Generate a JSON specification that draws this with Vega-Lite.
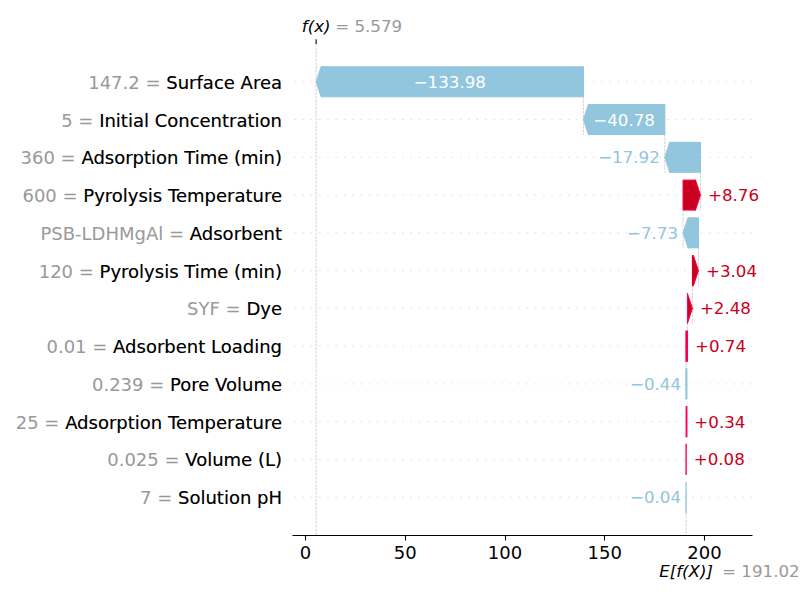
{
  "$schema": "https://vega.github.io/schema/vega-lite/v6.json",
  "width": 460,
  "height": 491,
  "autosize": {"type": "none"},
  "padding": {"left": 292, "top": 44, "right": 48, "bottom": 65},
  "background": "white",
  "config": {
    "view": {"stroke": null},
    "font": "DejaVu Sans",
    "axisX": {"tickCount": 5, "grid": false, "domainColor": "#000000", "domainWidth": 1.1, "tickColor": "#000000", "tickWidth": 1.1, "tickSize": 5, "labelColor": "#000000", "labelFontSize": 18, "labelPadding": 4, "labelFont": "DejaVu Sans"}
  },
  "datasets": {
    "rows": [
      {"name": "Surface Area", "full": "147.2 = Surface Area", "start": 139.557, "end": 5.579, "value": -133.98, "label": "−133.98"},
      {"name": "Initial Concentration", "full": "5 = Initial Concentration", "start": 180.337, "end": 139.557, "value": -40.78, "label": "−40.78"},
      {"name": "Adsorption Time (min)", "full": "360 = Adsorption Time (min)", "start": 198.257, "end": 180.337, "value": -17.92, "label": "−17.92"},
      {"name": "Pyrolysis Temperature", "full": "600 = Pyrolysis Temperature", "start": 189.497, "end": 198.257, "value": 8.76, "label": "+8.76"},
      {"name": "Adsorbent", "full": "PSB-LDHMgAl = Adsorbent", "start": 197.227, "end": 189.497, "value": -7.73, "label": "−7.73"},
      {"name": "Pyrolysis Time (min)", "full": "120 = Pyrolysis Time (min)", "start": 194.187, "end": 197.227, "value": 3.04, "label": "+3.04"},
      {"name": "Dye", "full": "SYF = Dye", "start": 191.707, "end": 194.187, "value": 2.48, "label": "+2.48"},
      {"name": "Adsorbent Loading", "full": "0.01 = Adsorbent Loading", "start": 190.967, "end": 191.707, "value": 0.74, "label": "+0.74"},
      {"name": "Pore Volume", "full": "0.239 = Pore Volume", "start": 191.407, "end": 190.967, "value": -0.44, "label": "−0.44"},
      {"name": "Adsorption Temperature", "full": "25 = Adsorption Temperature", "start": 191.067, "end": 191.407, "value": 0.34, "label": "+0.34"},
      {"name": "Volume (L)", "full": "0.025 = Volume (L)", "start": 190.987, "end": 191.067, "value": 0.08, "label": "+0.08"},
      {"name": "Solution pH", "full": "7 = Solution pH", "start": 191.027, "end": 190.987, "value": -0.04, "label": "−0.04"}
    ],
    "refs": [
      {"fx": 5.579, "base": 191.027, "fxLabel": "f(x)", "fxText": "= 5.579", "baseLabel": "E[f(X)]", "baseText": "= 191.027"}
    ]
  },
  "data": {"name": "rows"},
  "layer": [
    {
      "mark": {"type": "rule", "color": "#cccccc", "strokeWidth": 0.7, "strokeDash": [1.4, 6.9]},
      "encoding": {
        "y": {"field": "name", "type": "nominal", "axis": null,
              "scale": {"type": "point", "padding": 1, "domain": ["Surface Area", "Initial Concentration", "Adsorption Time (min)", "Pyrolysis Temperature", "Adsorbent", "Pyrolysis Time (min)", "Dye", "Adsorbent Loading", "Pore Volume", "Adsorption Temperature", "Volume (L)", "Solution pH"]}}
      }
    },
    {
      "transform": [{"filter": "indexof(['Pore Volume','Adsorption Temperature','Volume (L)','Solution pH'], datum.name) < 0"}],
      "mark": {"type": "rule", "color": "#bbbbbb", "strokeWidth": 0.7, "strokeDash": [2.6, 1.1], "yOffset": -15.1, "y2Offset": 52.9},
      "encoding": {
        "x": {"field": "start", "type": "quantitative", "title": null, "scale": {"domain": [-6.52, 224.06], "nice": false, "zero": false}},
        "y": {"field": "name", "type": "nominal", "axis": null},
        "y2": {"field": "name"}
      }
    },
    {
      "data": {"name": "refs"},
      "mark": {"type": "rule", "color": "#bbbbbb", "strokeWidth": 0.7, "strokeDash": [2.6, 1.1]},
      "encoding": {
        "x": {"field": "fx", "type": "quantitative", "title": null}
      }
    },
    {
      "data": {"name": "refs"},
      "mark": {"type": "rule", "color": "#bbbbbb", "strokeWidth": 0.7, "strokeDash": [2.6, 1.1], "yOffset": -3.2, "y2Offset": 37.8},
      "encoding": {
        "x": {"field": "base", "type": "quantitative", "title": null},
        "y": {"datum": "Solution pH", "type": "nominal", "axis": null},
        "y2": {"datum": "Solution pH"}
      }
    },
    {
      "data": {"name": "refs"},
      "mark": {"type": "rule", "color": "#000000", "strokeWidth": 1.1, "yOffset": -42.5, "y2Offset": -37.8},
      "encoding": {
        "x": {"field": "fx", "type": "quantitative", "title": null},
        "y": {"datum": "Surface Area", "type": "nominal", "axis": null},
        "y2": {"datum": "Surface Area"}
      }
    },
    {
      "transform": [{"filter": "datum.value > 2.6"}],
      "mark": {"type": "bar", "size": 30, "fill": "#ca0020", "stroke": "#ff0051", "strokeWidth": 1, "x2Offset": -5},
      "encoding": {
        "x": {"field": "start", "type": "quantitative", "title": null},
        "x2": {"field": "end"},
        "y": {"field": "name", "type": "nominal", "axis": null}
      }
    },
    {
      "transform": [{"filter": "datum.value < -2.6"}],
      "mark": {"type": "bar", "size": 30, "fill": "#92c5de", "stroke": "#92c5de", "strokeWidth": 1, "x2Offset": 5},
      "encoding": {
        "x": {"field": "start", "type": "quantitative", "title": null},
        "x2": {"field": "end"},
        "y": {"field": "name", "type": "nominal", "axis": null}
      }
    },
    {
      "transform": [{"filter": "datum.value > 2.6"}],
      "mark": {"type": "point", "shape": "M -0.42 -1 L -0.333 -1 L 0 0 L -0.333 1 L -0.42 1", "size": 900, "filled": true, "fill": "#ca0020", "stroke": "#ff0051", "strokeWidth": 1, "opacity": 1},
      "encoding": {
        "x": {"field": "end", "type": "quantitative", "title": null},
        "y": {"field": "name", "type": "nominal", "axis": null}
      }
    },
    {
      "transform": [{"filter": "datum.value > 2.3 && datum.value <= 2.6"}],
      "mark": {"type": "point", "shape": "M -0.333 -1 L 0 0 L -0.333 1 Z", "size": 900, "filled": true, "fill": "#ca0020", "stroke": "#ff0051", "strokeWidth": 1, "opacity": 1},
      "encoding": {
        "x": {"field": "end", "type": "quantitative", "title": null},
        "y": {"field": "name", "type": "nominal", "axis": null}
      }
    },
    {
      "transform": [{"filter": "datum.value < -2.6"}],
      "mark": {"type": "point", "shape": "M 0.42 -1 L 0.333 -1 L 0 0 L 0.333 1 L 0.42 1", "size": 900, "filled": true, "fill": "#92c5de", "stroke": "#92c5de", "strokeWidth": 1, "opacity": 1},
      "encoding": {
        "x": {"field": "end", "type": "quantitative", "title": null},
        "y": {"field": "name", "type": "nominal", "axis": null}
      }
    },
    {
      "transform": [{"filter": "abs(datum.value) < 1"}],
      "mark": {"type": "bar", "size": 30, "strokeWidth": 1.2},
      "encoding": {
        "x": {"field": "start", "type": "quantitative", "title": null},
        "x2": {"field": "end"},
        "y": {"field": "name", "type": "nominal", "axis": null},
        "fill": {"condition": {"test": "datum.value > 0", "value": "#ca0020"}, "value": "#92c5de"},
        "stroke": {"condition": {"test": "datum.value > 0", "value": "#ff0051"}, "value": "#92c5de"}
      }
    },
    {
      "transform": [{"filter": "abs(datum.value) > 30"}, {"fold": ["start", "end"], "as": ["k", "v"]}],
      "mark": {"type": "text", "fontSize": 16.67, "color": "#ffffff", "align": "center", "baseline": "alphabetic", "dy": 6},
      "encoding": {
        "x": {"aggregate": "mean", "field": "v", "type": "quantitative", "title": null},
        "y": {"field": "name", "type": "nominal", "axis": null},
        "text": {"field": "label"}
      }
    },
    {
      "transform": [{"filter": "datum.value < 0 && datum.value > -30"}],
      "mark": {"type": "text", "fontSize": 16.67, "color": "#92c5de", "align": "right", "baseline": "alphabetic", "dx": -5, "dy": 6},
      "encoding": {
        "x": {"field": "end", "type": "quantitative", "title": null},
        "y": {"field": "name", "type": "nominal", "axis": null},
        "text": {"field": "label"}
      }
    },
    {
      "transform": [{"filter": "datum.value > 0"}],
      "mark": {"type": "text", "fontSize": 16.67, "color": "#ca0020", "align": "left", "baseline": "alphabetic", "dx": 7.5, "dy": 6},
      "encoding": {
        "x": {"field": "end", "type": "quantitative", "title": null},
        "y": {"field": "name", "type": "nominal", "axis": null},
        "text": {"field": "label"}
      }
    },
    {
      "mark": {"type": "text", "fontSize": 18, "color": "#999999", "align": "right", "baseline": "alphabetic", "dx": -10, "dy": 7},
      "encoding": {
        "x": {"datum": -6.52, "type": "quantitative", "title": null},
        "y": {"field": "name", "type": "nominal", "axis": null},
        "text": {"field": "full"}
      }
    },
    {
      "mark": {"type": "text", "fontSize": 18, "color": "#000000", "align": "right", "baseline": "alphabetic", "dx": -10, "dy": 7},
      "encoding": {
        "x": {"datum": -6.52, "type": "quantitative", "title": null},
        "y": {"field": "name", "type": "nominal", "axis": null},
        "text": {"field": "name"}
      }
    },
    {
      "data": {"name": "refs"},
      "mark": {"type": "text", "fontSize": 16.67, "fontStyle": "italic", "color": "#000000", "align": "center", "baseline": "alphabetic", "dy": -50},
      "encoding": {
        "x": {"field": "fx", "type": "quantitative", "title": null},
        "y": {"datum": "Surface Area", "type": "nominal", "axis": null},
        "text": {"field": "fxLabel"}
      }
    },
    {
      "data": {"name": "refs"},
      "mark": {"type": "text", "fontSize": 16.67, "color": "#999999", "align": "left", "baseline": "alphabetic", "dx": 19, "dy": -50},
      "encoding": {
        "x": {"field": "fx", "type": "quantitative", "title": null},
        "y": {"datum": "Surface Area", "type": "nominal", "axis": null},
        "text": {"field": "fxText"}
      }
    },
    {
      "data": {"name": "refs"},
      "mark": {"type": "text", "fontSize": 16.67, "fontStyle": "italic", "color": "#000000", "align": "center", "baseline": "alphabetic", "dy": 80},
      "encoding": {
        "x": {"field": "base", "type": "quantitative", "title": null},
        "y": {"datum": "Solution pH", "type": "nominal", "axis": null},
        "text": {"field": "baseLabel"}
      }
    },
    {
      "data": {"name": "refs"},
      "mark": {"type": "text", "fontSize": 16.67, "color": "#999999", "align": "left", "baseline": "alphabetic", "dx": 36, "dy": 80},
      "encoding": {
        "x": {"field": "base", "type": "quantitative", "title": null},
        "y": {"datum": "Solution pH", "type": "nominal", "axis": null},
        "text": {"field": "baseText"}
      }
    }
  ]
}
